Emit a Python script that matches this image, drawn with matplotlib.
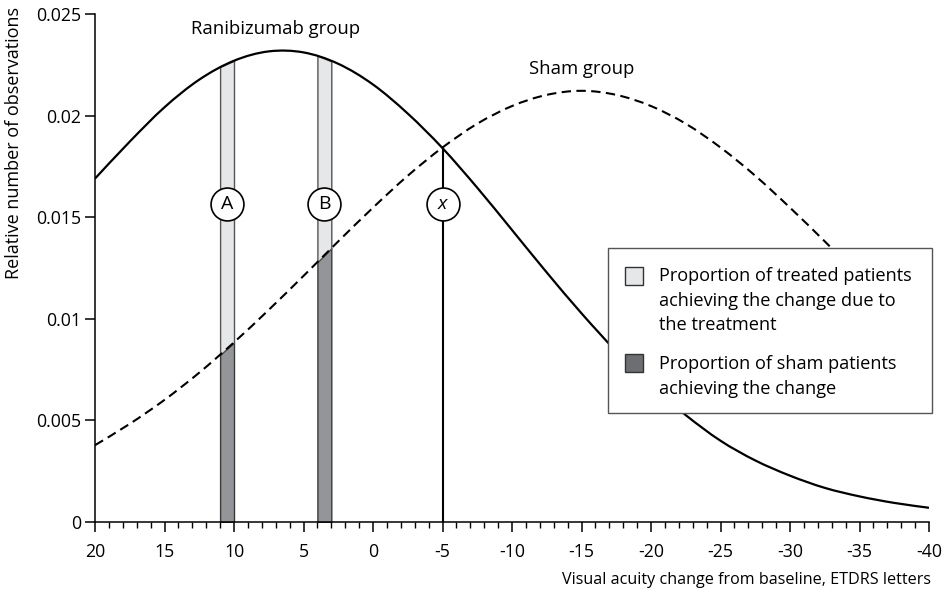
import matplotlib
matplotlib.use("Agg")
import matplotlib.pyplot as plt
from matplotlib.patches import Rectangle, PathPatch
from matplotlib.path import Path
from matplotlib.ticker import FixedLocator, MultipleLocator

plt.rcParams['font.family'] = ['Open Sans', 'DejaVu Sans']
plt.rcParams['axes.unicode_minus'] = False

# ---- data ----
x_pts = [20, 17.5, 15, 12.5, 10, 7.5, 5, 2.5, 0, -2.5, -5, -7.5, -10, -12.5,
         -15, -17.5, -20, -22.5, -25, -27.5, -30, -32.5, -35, -37.5, -40]
ranibizumab = [0.01690, 0.01872, 0.02041, 0.02177, 0.02270, 0.02316, 0.02311,
               0.02255, 0.02153, 0.02010, 0.01840, 0.01645, 0.01437, 0.01228,
               0.01027, 0.00840, 0.00672, 0.00526, 0.00400, 0.00303, 0.00228,
               0.00168, 0.00126, 0.00094, 0.00070]
sham = [0.00378, 0.00483, 0.00601, 0.00735, 0.00884, 0.01044, 0.01211,
        0.01381, 0.01547, 0.01704, 0.01843, 0.01960, 0.02047, 0.02102,
        0.02122, 0.02102, 0.02047, 0.01960, 0.01843, 0.01704, 0.01547,
        0.01381, 0.01211, 0.01044, 0.00884]

bar_labels = ['A', 'B']
bar_edges = [[11, 10], [4, 3]]
bar_treated_top = [[0.02240, 0.02270], [0.02295, 0.02268]]
bar_sham_top = [[0.00823, 0.00884], [0.01279, 0.01347]]
bar_label_x = [10.5, 3.5]

x_marker = -5
x_marker_top = 0.01840
label_y = 0.01565

x_ticks = [20, 15, 10, 5, 0, -5, -10, -15, -20, -25, -30, -35, -40]
y_ticks = [0, 0.005, 0.01, 0.015, 0.02, 0.025]
y_tick_labels = ['0', '0.005', '0.01', '0.015', '0.02', '0.025']

light = '#e6e7e8'
dark = '#939598'

W, H = 948, 600
fig = plt.figure(figsize=(W / 100, H / 100), dpi=100)
ax = fig.add_axes([95 / W, 1 - 522 / H, (929 - 95) / W, (522 - 14) / H])

ax.set_xlim(20, -40)
ax.set_ylim(0, 0.025)


def smooth_path(xs, ys):
    """Smooth (Catmull-Rom style) rendering of the read points."""
    pts = list(zip(xs, ys))
    verts = [pts[0]]
    codes = [Path.MOVETO]
    n = len(pts)
    for i in range(n - 1):
        p0 = pts[i - 1] if i > 0 else pts[i]
        p1 = pts[i]
        p2 = pts[i + 1]
        p3 = pts[i + 2] if i + 2 < n else pts[i + 1]
        c1 = (p1[0] + (p2[0] - p0[0]) / 6, p1[1] + (p2[1] - p0[1]) / 6)
        c2 = (p2[0] - (p3[0] - p1[0]) / 6, p2[1] - (p3[1] - p1[1]) / 6)
        verts += [c1, c2, p2]
        codes += [Path.CURVE4] * 3
    return Path(verts, codes)


# bars
for (xe, tt, st) in zip(bar_edges, bar_treated_top, bar_sham_top):
    ax.fill_between(xe, [0, 0], st, facecolor=dark, edgecolor='#3a3a3a',
                    linewidth=1.0, zorder=2)
    ax.fill_between(xe, st, tt, facecolor=light, edgecolor='#555555',
                    linewidth=1.0, zorder=2)

# x marker line
ax.plot([x_marker, x_marker], [0, x_marker_top], color='black', lw=1.5,
        zorder=3, solid_capstyle='butt')

# curves
ax.add_patch(PathPatch(smooth_path(x_pts, ranibizumab), fill=False,
                       edgecolor='black', lw=1.6, zorder=4))
ax.add_patch(PathPatch(smooth_path(x_pts, sham), fill=False,
                       edgecolor='black', lw=1.5, linestyle=(0, (4.5, 2.6)),
                       zorder=4))

# circle labels
circ_x = bar_label_x + [x_marker]
circ_t = bar_labels + ['x']
ax.scatter(circ_x, [label_y] * len(circ_x), s=560, facecolor='white',
           edgecolor='black', linewidth=1.2, zorder=5)
for cx, t in zip(circ_x, circ_t):
    ax.text(cx, label_y, t, ha='center', va='center', fontsize=14,
            style='italic' if t == 'x' else 'normal', zorder=6)

ax.text(7.0, 0.02425, 'Ranibizumab group', ha='center', va='center', fontsize=13.3)
ax.text(-15.0, 0.0223, 'Sham group', ha='center', va='center', fontsize=13.3)

# axes styling
for s in ['top', 'right']:
    ax.spines[s].set_visible(False)
for s in ['left', 'bottom']:
    ax.spines[s].set_linewidth(1.1)
ax.xaxis.set_major_locator(FixedLocator(x_ticks))
ax.set_xticklabels([str(v) for v in x_ticks])
ax.xaxis.set_minor_locator(MultipleLocator(1))
ax.yaxis.set_major_locator(FixedLocator(y_ticks))
ax.set_yticklabels(y_tick_labels)
ax.tick_params(axis='x', which='major', length=7, width=1.1, labelsize=12.8, pad=8)
ax.tick_params(axis='x', which='minor', length=4.5, width=1.0)
ax.tick_params(axis='y', which='major', length=7, width=1.1, labelsize=12.8, pad=3)

fig.text(931 / W, 1 - 580 / H, 'Visual acuity change from baseline, ETDRS letters',
         ha='right', va='center', fontsize=11.6)
fig.text(14 / W, 1 - 143 / H, 'Relative number of observations',
         ha='center', va='center', rotation=90, fontsize=13.0)

# legend (manual)
def fx(px):
    return px / W

def fy(py):
    return 1 - py / H

lb = Rectangle((fx(608), fy(413)), fx(932) - fx(608), fy(248) - fy(413),
               transform=fig.transFigure, facecolor='white', edgecolor='#555555',
               linewidth=1.0, zorder=10)
fig.patches.append(lb)
for (py, col) in [(267, light), (354, '#6d6e71')]:
    sq = Rectangle((fx(625), fy(py + 18)), fx(643) - fx(625), fy(py) - fy(py + 18),
                   transform=fig.transFigure, facecolor=col, edgecolor='#333333',
                   linewidth=1.0, zorder=11)
    fig.patches.append(sq)
legend_lines = [('Proportion of treated patients', 281),
                ('achieving the change due to', 305.5),
                ('the treatment', 330),
                ('Proportion of sham patients', 369),
                ('achieving the change', 393.5)]
for t, py in legend_lines:
    fig.text(fx(659), fy(py), t, ha='left', va='baseline', fontsize=13.1, zorder=12)

fig.savefig('out.png', dpi=100)
